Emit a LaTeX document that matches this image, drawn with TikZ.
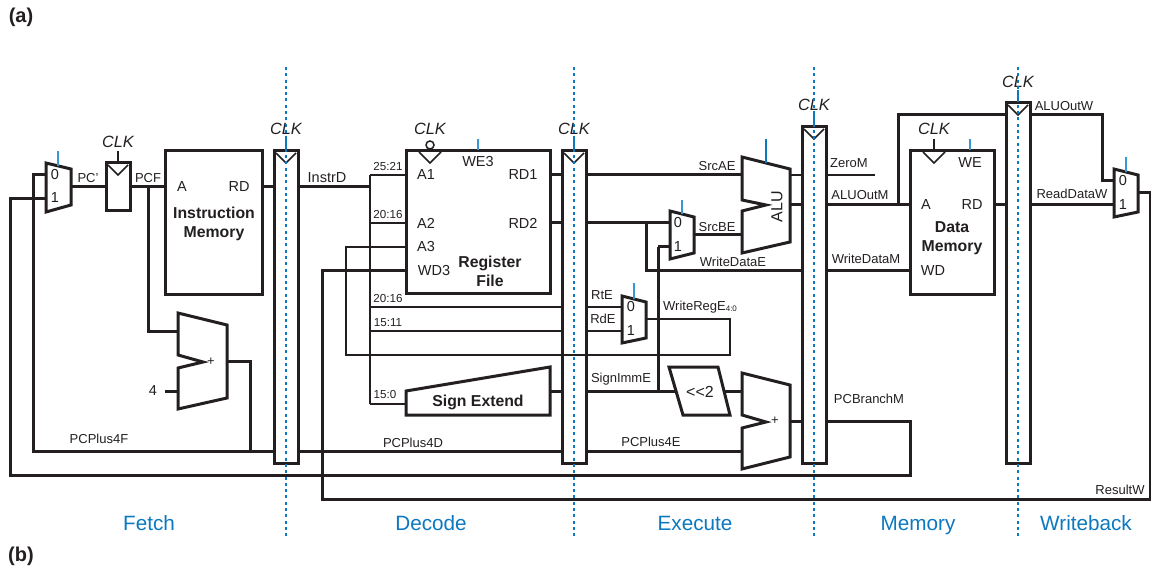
\documentclass[tikz,border=0pt]{standalone}
\usepackage{fontspec}
\setmainfont{Liberation Sans}
\definecolor{ink}{HTML}{231F20}
\definecolor{stage}{HTML}{0B78C0}
\definecolor{ctl}{HTML}{3A96D2}
\tikzset{
  wire/.style={draw=ink,line width=3pt,line join=miter},
  midw/.style={draw=ink,line width=2.2pt},
  thinw/.style={draw=ink,line width=1.6pt},
  blk/.style={draw=ink,line width=3pt,fill=white,miter limit=10},
  boxn/.style={draw=ink,line width=3pt,fill=white,inner sep=0pt,outer sep=0pt,anchor=north west},
  clkt/.style={draw=ink,line width=1.5pt},
  ctlt/.style={draw=ctl,line width=1.7pt},
  ctls/.style={draw=stage,line width=1.7pt},
  stagel/.style={draw=stage,line width=2pt,dash pattern=on 3pt off 3.3pt},
  lb/.style={inner sep=0pt,text=ink,font=\fontsize{13}{15}\selectfont},
  sm/.style={inner sep=0pt,text=ink,font=\fontsize{11.6}{13}\selectfont},
  pin/.style={inner sep=0pt,text=ink,font=\fontsize{14.5}{17}\selectfont},
  bl/.style={inner sep=0pt,text=ink,align=center,font=\fontsize{15.8}{19}\selectfont\bfseries},
  ck/.style={inner sep=0pt,text=ink,font=\fontsize{16.3}{18}\selectfont\itshape},
  st/.style={inner sep=0pt,anchor=base,text=stage,font=\fontsize{20.7}{24}\selectfont},
  hd/.style={inner sep=0pt,text=ink,font=\fontsize{20}{22}\selectfont\bfseries},
}
\begin{document}
\begin{tikzpicture}[x=1pt,y=-1pt]
\useasboundingbox (0,0) rectangle (1151,569);
% ---------- boxes
\node[boxn,minimum width=24pt,minimum height=48pt] (pcreg) at (106,163) {};
\node[boxn,minimum width=97pt,minimum height=144pt] (im) at (165,151) {};
\node[boxn,minimum width=144pt,minimum height=143pt] (rf) at (406,151) {};
\node[boxn,minimum width=84pt,minimum height=144pt] (dm) at (910,151) {};
\node[boxn,minimum width=24pt,minimum height=312pt] (pr1) at (274,151) {};
\node[boxn,minimum width=24pt,minimum height=312pt] (pr2) at (562,151) {};
\node[boxn,minimum width=24pt,minimum height=336pt] (pr3) at (802,127) {};
\node[boxn,minimum width=24pt,minimum height=360pt] (pr4) at (1006,103) {};
% ---------- named points
\coordinate (mfo) at (71,187);
\coordinate (mf0) at (46,175);
\coordinate (mf1) at (46,199);
\coordinate (ima) at (165,187);
\coordinate (imrd) at (262,187);
\coordinate (jpcf) at (148,187);
\coordinate (jpcfb) at (148,331);
\coordinate (afa) at (178,331);
\coordinate (afb) at (178,391);
\coordinate (four) at (165,391);
\coordinate (afo) at (227,361);
\coordinate (jafo) at (250,361);
\coordinate (jaf) at (250,451);
\coordinate (pc4l) at (33.5,451);
\coordinate (pc4t) at (33.5,175);
\coordinate (aeb) at (742,451);
\coordinate (jinstr) at (370,187);
\coordinate (jb1) at (370,175);
\coordinate (jb2) at (370,223);
\coordinate (jb3) at (370,307);
\coordinate (jb4) at (370,331);
\coordinate (jb5) at (370,404);
\coordinate (ra1) at (406,175);
\coordinate (ra2) at (406,223);
\coordinate (ra3) at (406,247);
\coordinate (rwd) at (406,271);
\coordinate (ja3) at (346,247);
\coordinate (ja3b) at (346,355);
\coordinate (jwrb) at (730,355);
\coordinate (jwrt) at (730,319);
\coordinate (mro) at (646,319);
\coordinate (mr0) at (622,307);
\coordinate (mr1) at (622,331);
\coordinate (rrd1) at (550,175);
\coordinate (rrd2) at (550,223);
\coordinate (sein) at (406,404);
\coordinate (seo) at (550,391);
\coordinate (jwd) at (322,271);
\coordinate (jres) at (322,499);
\coordinate (jresr) at (1150,499);
\coordinate (jresu) at (1150,193);
\coordinate (mwo) at (1138,193);
\coordinate (alua) at (742,175);
\coordinate (alub) at (742,235);
\coordinate (meo) at (694,235);
\coordinate (me0) at (670,223);
\coordinate (me1) at (670,247);
\coordinate (jrd2) at (646,223);
\coordinate (jrd2b) at (646,271);
\coordinate (jme1) at (658,247);
\coordinate (jsi) at (658,391);
\coordinate (sl) at (676,391);
\coordinate (sr) at (724,391);
\coordinate (aea) at (742,391);
\coordinate (aeo) at (790,421);
\coordinate (jbr) at (910,421);
\coordinate (jbrb) at (910,475);
\coordinate (jbrl) at (10,475);
\coordinate (jbrt) at (10,199);
\coordinate (aluz) at (790,175);
\coordinate (aluo) at (790,205);
\coordinate (zend) at (875,175);
\coordinate (dma) at (910,205);
\coordinate (dmwd) at (910,271);
\coordinate (dmrd) at (994,205);
\coordinate (jao) at (898,205);
\coordinate (jaot) at (898,115);
\coordinate (jaor) at (1102,115);
\coordinate (jaod) at (1102,181);
\coordinate (mw0) at (1114,181);
\coordinate (mw1) at (1114,205);
% ---------- wires
\draw[wire] (mfo) -- (pcreg.west);
\draw[wire] (pcreg.east) -- (ima);
\draw[wire] (jpcf) -- (jpcfb) -- (afa);
\draw[wire] (four) -- (afb);
\draw[wire] (afo) -- (jafo) -- (jaf);
\draw[wire] (mf0) -- (pc4t) -- (pc4l) -- (pr1.west |- pc4l);
\draw[wire] (pr1.east |- pc4l) -- (pr2.west |- pc4l);
\draw[wire] (pr2.east |- pc4l) -- (aeb);
\draw[wire] (imrd) -- (pr1.west |- imrd);
\draw[wire] (pr1.east |- imrd) -- (jinstr);
\draw[midw] (jb1) -- (jb5);
\draw[thinw] (jb1) -- (ra1);
\draw[thinw] (jb2) -- (ra2);
\draw[thinw] (ja3) -- (ra3);
\draw[thinw] (ra3) -- (ja3) -- (ja3b) -- (jwrb) -- (jwrt) -- (mro);
\draw[thinw] (jb3) -- (pr2.west |- jb3);
\draw[thinw] (pr2.east |- jb3) -- (mr0);
\draw[thinw] (jb4) -- (pr2.west |- jb4);
\draw[thinw] (pr2.east |- jb4) -- (mr1);
\draw[thinw] (jb5) -- (sein);
\draw[wire] (rwd) -- (jwd) -- (jres) -- (jresr) -- (jresu) -- (mwo);
\draw[wire] (rrd1) -- (pr2.west |- rrd1);
\draw[wire] (pr2.east |- rrd1) -- (alua);
\draw[wire] (rrd2) -- (pr2.west |- rrd2);
\draw[wire] (pr2.east |- rrd2) -- (me0);
\draw[wire] (jrd2) -- (jrd2b) -- (pr3.west |- jrd2b);
\draw[wire] (pr3.east |- jrd2b) -- (dmwd);
\draw[wire] (meo) -- (alub);
\draw[wire] (jme1) -- (me1);
\draw[wire] (jme1) -- (jsi);
\draw[wire] (seo) -- (pr2.west |- seo);
\draw[wire] (pr2.east |- seo) -- (sl);
\draw[wire] (sr) -- (aea);
\draw[wire] (aeo) -- (pr3.west |- aeo);
\draw[wire] (pr3.east |- aeo) -- (jbr) -- (jbrb) -- (jbrl) -- (jbrt) -- (mf1);
\draw[thinw] (aluz) -- (pr3.west |- aluz);
\draw[thinw] (pr3.east |- aluz) -- (zend);
\draw[wire] (aluo) -- (pr3.west |- aluo);
\draw[wire] (pr3.east |- aluo) -- (dma);
\draw[wire] (dmrd) -- (pr4.west |- dmrd);
\draw[wire] (pr4.east |- dmrd) -- (mw1);
\draw[wire] (jao) -- (jaot) -- (pr4.west |- jaot);
\draw[wire] (pr4.east |- jaot) -- (jaor) -- (jaod) -- (mw0);
% ---------- muxes and adders
\draw[blk] (46,163) -- (71,169) -- (mfo) -- (71,205) -- (46,212) -- cycle;
\draw[blk] (670,211) -- (694,217) -- (694,253) -- (670,259) -- cycle;
\draw[blk] (622,296) -- (646,302) -- (646,338) -- (622,343) -- cycle;
\draw[blk] (1114,169) -- (1138,175) -- (1138,212) -- (1114,217) -- cycle;
\draw[blk] (178,313) -- (227,325) -- (227,398) -- (178,409) -- (178,368) -- (203,362) -- (178,355) -- cycle;
\draw[blk] (742,157) -- (790,169) -- (790,242) -- (742,253) -- (742,211) -- (766,205) -- (742,200) -- cycle;
\draw[blk] (742,373) -- (790,385) -- (790,457) -- (742,469) -- (742,428) -- (766,422) -- (742,415) -- cycle;
\draw[blk] (669,367) -- (718,367) -- (730,415) -- (683,415) -- cycle;
\draw[blk] (406,391) -- (550,367) -- (550,415) -- (406,415) -- cycle;
% ---------- clock triangles
\draw[clkt] (108,165) -- (118,175) -- (128,165);
\draw[clkt] (276,153) -- (286,163) -- (296,153);
\draw[clkt] (564,153) -- (574,163) -- (584,153);
\draw[clkt] (804,129) -- (814,139) -- (824,129);
\draw[clkt] (1008,105) -- (1018,115) -- (1028,105);
\draw[clkt] (419,152) -- (430,163) -- (441,152);
\draw[clkt] (923,152) -- (934,163) -- (945,152);
\draw[clkt] (118,151) -- (118,163);
\draw[clkt] (934,139) -- (934,150);
\draw[clkt,fill=white] (430,145) circle (4);
% ---------- control ticks
\draw[ctlt] (58,151) -- (58,166);
\draw[ctlt] (478,139) -- (478,150);
\draw[ctlt] (682,200) -- (682,214);
\draw[ctlt] (634,283) -- (634,299);
\draw[ctls] (766,139) -- (766,163);
\draw[ctlt] (970,139) -- (970,150);
\draw[ctlt] (1126,157) -- (1126,172);
% ---------- labels under the stage lines
\node[ck] (c2) at (286,129) {CLK};
\node[ck] (c4) at (574,129) {CLK};
\node[ck] (c5) at (814,105) {CLK};
\node[ck] (c6) at (1018,82) {CLK};
% ---------- stage boundaries
\draw[stagel] (286,67) -- (286,536);
\draw[stagel] (574,67) -- (574,536);
\draw[stagel] (814,67) -- (814,536);
\draw[stagel] (1018,67) -- (1018,536);
\draw[ctls] (286,137) -- (286,150);
\draw[ctls] (574,137) -- (574,150);
\draw[ctls] (814,113) -- (814,126);
\draw[ctls] (1018,90) -- (1018,102);
% ---------- labels
\node[hd] (ta) at (21,17) {(a)};
\node[hd] (tb) at (21,556) {(b)};
\node[ck] (c1) at (118,142) {CLK};
\node[ck] (c3) at (430,129) {CLK};
\node[ck] (c7) at (934,129) {CLK};
\node[pin] (m1a) at (55,175) {0};
\node[pin] (m1b) at (55,198) {1};
\node[pin] (m2a) at (678,223) {0};
\node[pin] (m2b) at (678,247) {1};
\node[pin] (m3a) at (631,307) {0};
\node[pin] (m3b) at (631,331) {1};
\node[pin] (m4a) at (1123,181) {0};
\node[pin] (m4b) at (1123,205) {1};
\node[lb] (lpc) at (88,178) {PC'};
\node[lb] (lpcf) at (148,178) {PCF};
\node[pin] (la) at (182,187) {A};
\node[pin] (lrd) at (239,187) {RD};
\node[bl] (lim) at (214,223.5) {Instruction\\Memory};
\node[pin] (linstr) at (327,178) {InstrD};
\node[sm] (b1) at (388,167) {25:21};
\node[sm] (b2) at (388,215) {20:16};
\node[sm] (b3) at (388,299) {20:16};
\node[sm] (b4) at (388,323) {15:11};
\node[sm] (b5) at (385,395) {15:0};
\node[pin] (la1) at (426,175) {A1};
\node[pin] (la2) at (426,223) {A2};
\node[pin] (la3) at (426,247) {A3};
\node[pin] (lwd3) at (434,271) {WD3};
\node[pin] (lwe3) at (478,162) {WE3};
\node[pin] (lrd1) at (523,175) {RD1};
\node[pin] (lrd2) at (523,223) {RD2};
\node[bl] (lrf) at (490,271.5) {Register\\File};
\node[bl] (lse) at (478,402) {Sign Extend};
\node[lb] (lp4f) at (99,439) {PCPlus4F};
\node[lb] (lp4d) at (413,443) {PCPlus4D};
\node[lb] (lp4e) at (651,442) {PCPlus4E};
\node[lb] (lsi) at (621,379) {SignImmE};
\node[lb] (lrt) at (602,295) {RtE};
\node[lb] (lrde) at (603,319) {RdE};
\node[lb,anchor=west] (lwr) at (663,307) {WriteRegE\raisebox{-1pt}{\fontsize{8}{9}\selectfont 4:0}};
\node[lb] (lsa) at (717,166) {SrcAE};
\node[lb] (lsb) at (717,227) {SrcBE};
\node[lb] (lwde) at (733,262) {WriteDataE};
\node[lb] (lz) at (849,163) {ZeroM};
\node[lb] (lao) at (860,195) {ALUOutM};
\node[lb] (lwdm) at (866,259) {WriteDataM};
\node[lb] (lpb) at (869,399) {PCBranchM};
\node[lb] (law) at (1064,106) {ALUOutW};
\node[lb] (lrw) at (1072,194) {ReadDataW};
\node[lb] (lres) at (1120,490) {ResultW};
\node[pin,rotate=90,font=\fontsize{16}{18}\selectfont] (lalu) at (777,207) {ALU};
\node[bl] (ldm) at (952,238.5) {Data\\Memory};
\node[pin] (lda) at (926,205) {A};
\node[pin] (ldrd) at (972,205) {RD};
\node[pin] (ldwd) at (933,271) {WD};
\node[pin] (lwe) at (970,163) {WE};
\node[pin,font=\fontsize{16}{18}\selectfont] (lsl) at (700,392) {<{}<2};
\node[lb] (pl1) at (211,362) {+};
\node[lb] (pl2) at (775,421) {+};
\node[pin] (l4) at (153,391) {4};
\node[st] (s1) at (149,530) {Fetch};
\node[st] (s2) at (431,530) {Decode};
\node[st] (s3) at (695,530) {Execute};
\node[st] (s4) at (918,530) {Memory};
\node[st] (s5) at (1086,530) {Writeback};
\end{tikzpicture}
\end{document}
